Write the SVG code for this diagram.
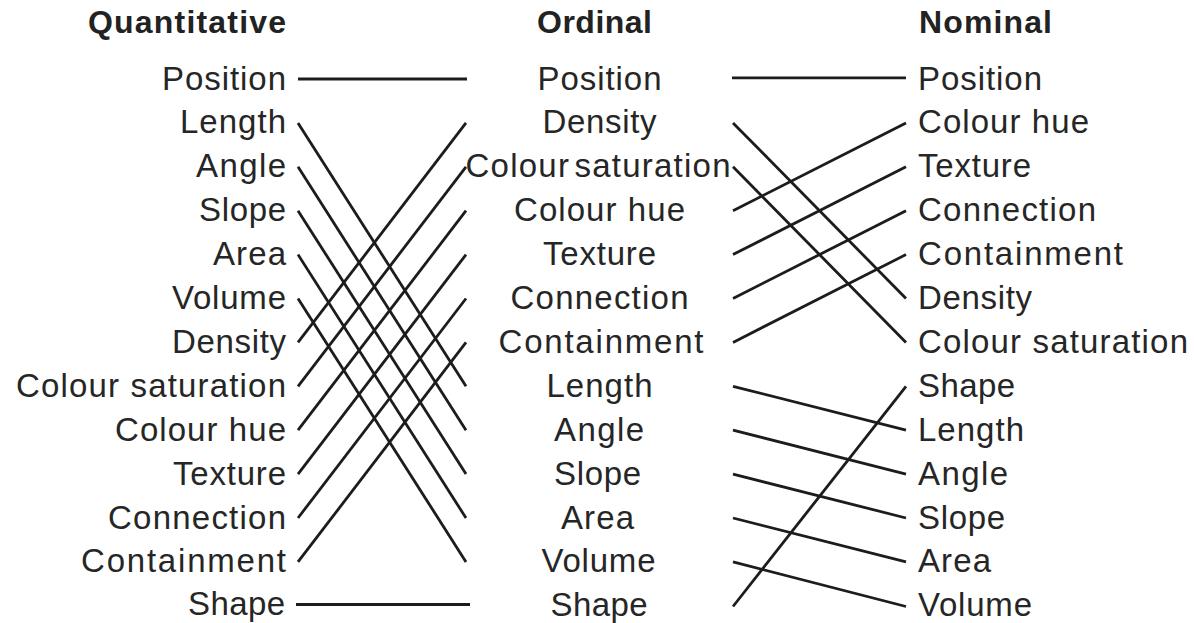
<svg xmlns="http://www.w3.org/2000/svg" width="1194" height="623" viewBox="0 0 1194 623">
<style>
  .bg { fill: #ffffff; }
  .hd { font-family: "Liberation Sans", Arial, sans-serif; font-size: 32px; font-weight: 700; fill: #222222; }
  .lb { font-family: "Liberation Sans", Arial, sans-serif; font-size: 33px; font-weight: 400; fill: #262626; }
  .q { text-anchor: end; }
  .o { text-anchor: middle; }
  .n { text-anchor: start; }
  .c line { stroke: #1c1c1c; stroke-width: 2.8; stroke-linecap: butt; fill: none; }
</style>
<rect class="bg" x="0" y="0" width="1194" height="623"/>

<g id="headers">
  <text id="h-quantitative" class="hd q" x="286" y="32.5" textLength="198" lengthAdjust="spacing">Quantitative</text>
  <text id="h-ordinal" class="hd n" x="537" y="32.5" textLength="115" lengthAdjust="spacing">Ordinal</text>
  <text id="h-nominal" class="hd n" x="919" y="32.5" textLength="133" lengthAdjust="spacing">Nominal</text>
</g>

<g id="quantitative">
  <g id="q-position"><text class="lb q" x="286" y="89.5" textLength="124" lengthAdjust="spacing">Position</text></g>
  <g id="q-length"><text class="lb q" x="286" y="133.4" textLength="106" lengthAdjust="spacing">Length</text></g>
  <g id="q-angle"><text class="lb q" x="286" y="177.3" textLength="90" lengthAdjust="spacing">Angle</text></g>
  <g id="q-slope"><text class="lb q" x="286" y="221.2" textLength="87" lengthAdjust="spacing">Slope</text></g>
  <g id="q-area"><text class="lb q" x="286" y="265.1" textLength="73" lengthAdjust="spacing">Area</text></g>
  <g id="q-volume"><text class="lb q" x="286" y="309" textLength="114" lengthAdjust="spacing">Volume</text></g>
  <g id="q-density"><text class="lb q" x="286" y="352.9" textLength="114" lengthAdjust="spacing">Density</text></g>
  <g id="q-colour-saturation"><text class="lb q" x="286" y="396.8" textLength="270" lengthAdjust="spacing">Colour saturation</text></g>
  <g id="q-colour-hue"><text class="lb q" x="286" y="440.7" textLength="171" lengthAdjust="spacing">Colour hue</text></g>
  <g id="q-texture"><text class="lb q" x="286" y="484.6" textLength="113" lengthAdjust="spacing">Texture</text></g>
  <g id="q-connection"><text class="lb q" x="286" y="528.5" textLength="178" lengthAdjust="spacing">Connection</text></g>
  <g id="q-containment"><text class="lb q" x="286" y="572.4" textLength="205" lengthAdjust="spacing">Containment</text></g>
  <g id="q-shape"><text class="lb q" x="285" y="614.5" textLength="97" lengthAdjust="spacing">Shape</text></g>
</g>

<g id="ordinal">
  <g id="o-position"><text class="lb o" x="599.5" y="89.5" textLength="124" lengthAdjust="spacing">Position</text></g>
  <g id="o-density"><text class="lb o" x="599.5" y="133.4" textLength="114" lengthAdjust="spacing">Density</text></g>
  <g id="o-colour-saturation"><text class="lb o" x="598" y="177.3" textLength="265" lengthAdjust="spacing" word-spacing="-6">Colour saturation</text></g>
  <g id="o-colour-hue"><text class="lb o" x="599.5" y="221.2" textLength="171" lengthAdjust="spacing">Colour hue</text></g>
  <g id="o-texture"><text class="lb o" x="599.5" y="265.1" textLength="113" lengthAdjust="spacing">Texture</text></g>
  <g id="o-connection"><text class="lb o" x="599.5" y="309" textLength="178" lengthAdjust="spacing">Connection</text></g>
  <g id="o-containment"><text class="lb o" x="601" y="352.9" textLength="205" lengthAdjust="spacing">Containment</text></g>
  <g id="o-length"><text class="lb o" x="599.5" y="396.8" textLength="106" lengthAdjust="spacing">Length</text></g>
  <g id="o-angle"><text class="lb o" x="599" y="440.7" textLength="90" lengthAdjust="spacing">Angle</text></g>
  <g id="o-slope"><text class="lb o" x="597.5" y="484.6" textLength="87" lengthAdjust="spacing">Slope</text></g>
  <g id="o-area"><text class="lb o" x="597.5" y="528.5" textLength="73" lengthAdjust="spacing">Area</text></g>
  <g id="o-volume"><text class="lb o" x="598.5" y="572.4" textLength="114" lengthAdjust="spacing">Volume</text></g>
  <g id="o-shape"><text class="lb o" x="599" y="615.5" textLength="97" lengthAdjust="spacing">Shape</text></g>
</g>

<g id="nominal">
  <g id="n-position"><text class="lb n" x="918" y="89.5" textLength="124" lengthAdjust="spacing">Position</text></g>
  <g id="n-colour-hue"><text class="lb n" x="918" y="133.4" textLength="171" lengthAdjust="spacing">Colour hue</text></g>
  <g id="n-texture"><text class="lb n" x="918" y="177.3" textLength="113" lengthAdjust="spacing">Texture</text></g>
  <g id="n-connection"><text class="lb n" x="918" y="221.2" textLength="178" lengthAdjust="spacing">Connection</text></g>
  <g id="n-containment"><text class="lb n" x="918" y="265.1" textLength="205" lengthAdjust="spacing">Containment</text></g>
  <g id="n-density"><text class="lb n" x="918" y="309" textLength="114" lengthAdjust="spacing">Density</text></g>
  <g id="n-colour-saturation"><text class="lb n" x="918" y="352.9" textLength="270" lengthAdjust="spacing">Colour saturation</text></g>
  <g id="n-shape"><text class="lb n" x="918" y="396.8" textLength="97" lengthAdjust="spacing">Shape</text></g>
  <g id="n-length"><text class="lb n" x="918" y="440.7" textLength="106" lengthAdjust="spacing">Length</text></g>
  <g id="n-angle"><text class="lb n" x="918" y="484.6" textLength="90" lengthAdjust="spacing">Angle</text></g>
  <g id="n-slope"><text class="lb n" x="918" y="528.5" textLength="87" lengthAdjust="spacing">Slope</text></g>
  <g id="n-area"><text class="lb n" x="918" y="572.4" textLength="73" lengthAdjust="spacing">Area</text></g>
  <g id="n-volume"><text class="lb n" x="918" y="616.3" textLength="114" lengthAdjust="spacing">Volume</text></g>
</g>

<g id="connectors" class="c">
  <line x1="298" y1="79" x2="467" y2="79"/>
  <line x1="298" y1="122.9" x2="466" y2="386.3"/>
  <line x1="298" y1="166.8" x2="466" y2="430.2"/>
  <line x1="298" y1="210.7" x2="466" y2="474.1"/>
  <line x1="298" y1="254.6" x2="466" y2="518"/>
  <line x1="298" y1="298.5" x2="466" y2="561.9"/>
  <line x1="298" y1="342.4" x2="466" y2="122.9"/>
  <line x1="298" y1="386.3" x2="466" y2="166.8"/>
  <line x1="298" y1="430.2" x2="466" y2="210.7"/>
  <line x1="298" y1="474.1" x2="466" y2="254.6"/>
  <line x1="298" y1="518" x2="466" y2="298.5"/>
  <line x1="298" y1="561.9" x2="466" y2="342.4"/>
  <line x1="296" y1="604.5" x2="470" y2="604.5"/>

  <line x1="732" y1="77.8" x2="906" y2="77.8"/>
  <line x1="733" y1="122.9" x2="906" y2="298.5"/>
  <line x1="733" y1="166.8" x2="906" y2="342.4"/>
  <line x1="733" y1="210.7" x2="906" y2="122.9"/>
  <line x1="733" y1="254.6" x2="906" y2="166.8"/>
  <line x1="733" y1="298.5" x2="906" y2="210.7"/>
  <line x1="733" y1="342.4" x2="906" y2="254.6"/>
  <line x1="733" y1="386.3" x2="906" y2="430.2"/>
  <line x1="733" y1="430.2" x2="906" y2="474.1"/>
  <line x1="733" y1="474.1" x2="906" y2="518"/>
  <line x1="733" y1="518" x2="906" y2="561.9"/>
  <line x1="733" y1="561.9" x2="906" y2="606.5"/>
  <line x1="733" y1="606.5" x2="906" y2="386.3"/>
</g>
</svg>
